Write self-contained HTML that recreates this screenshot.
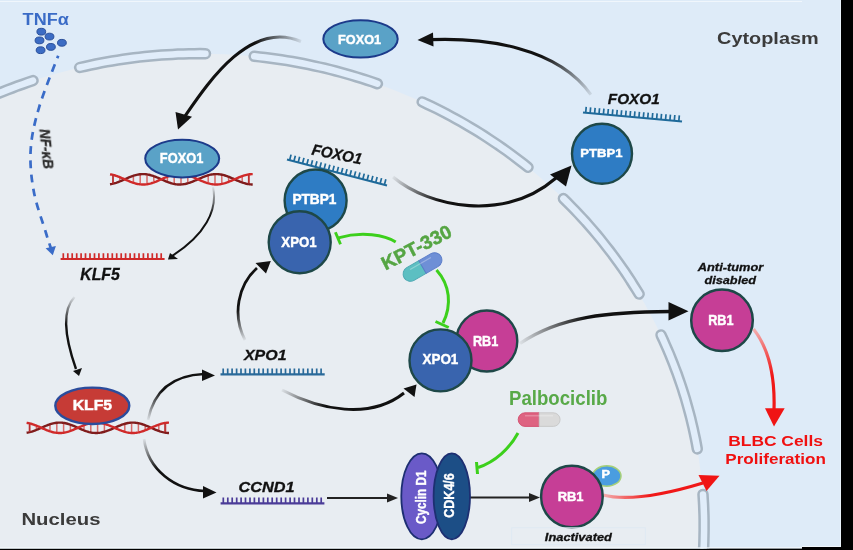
<!DOCTYPE html>
<html><head><meta charset="utf-8"><style>
html,body{margin:0;padding:0;width:853px;height:550px;overflow:hidden;background:#000}
svg{display:block;will-change:transform}
text{font-family:"Liberation Sans",sans-serif;font-weight:bold}
</style></head><body>
<svg width="853" height="550" viewBox="0 0 853 550">
<defs>
<linearGradient id="g1" gradientUnits="userSpaceOnUse" x1="592" y1="97" x2="540" y2="58"><stop offset="0" stop-color="#000" stop-opacity="0.05"/><stop offset="1" stop-color="#111" stop-opacity="1"/></linearGradient>
<linearGradient id="g2" gradientUnits="userSpaceOnUse" x1="302" y1="41" x2="255" y2="42"><stop offset="0" stop-color="#000" stop-opacity="0.05"/><stop offset="1" stop-color="#111"/></linearGradient>
<linearGradient id="g3" gradientUnits="userSpaceOnUse" x1="393" y1="177" x2="440" y2="200"><stop offset="0" stop-color="#000" stop-opacity="0.05"/><stop offset="1" stop-color="#111"/></linearGradient>
<linearGradient id="g4" gradientUnits="userSpaceOnUse" x1="213" y1="187" x2="214" y2="215"><stop offset="0" stop-color="#000" stop-opacity="0.05"/><stop offset="1" stop-color="#111"/></linearGradient>
<linearGradient id="g5" gradientUnits="userSpaceOnUse" x1="75" y1="297" x2="66" y2="325"><stop offset="0" stop-color="#000" stop-opacity="0.05"/><stop offset="1" stop-color="#111"/></linearGradient>
<linearGradient id="g6" gradientUnits="userSpaceOnUse" x1="148" y1="420" x2="160" y2="390"><stop offset="0" stop-color="#000" stop-opacity="0.05"/><stop offset="1" stop-color="#111"/></linearGradient>
<linearGradient id="g7" gradientUnits="userSpaceOnUse" x1="144" y1="439" x2="155" y2="470"><stop offset="0" stop-color="#000" stop-opacity="0.05"/><stop offset="1" stop-color="#111"/></linearGradient>
<linearGradient id="g8" gradientUnits="userSpaceOnUse" x1="245" y1="340" x2="237" y2="310"><stop offset="0" stop-color="#000" stop-opacity="0.05"/><stop offset="1" stop-color="#111"/></linearGradient>
<linearGradient id="g9" gradientUnits="userSpaceOnUse" x1="282" y1="390" x2="325" y2="408"><stop offset="0" stop-color="#000" stop-opacity="0.05"/><stop offset="1" stop-color="#111"/></linearGradient>
<linearGradient id="g10" gradientUnits="userSpaceOnUse" x1="520" y1="343" x2="585" y2="316"><stop offset="0" stop-color="#000" stop-opacity="0.05"/><stop offset="1" stop-color="#111"/></linearGradient>
<linearGradient id="r1" gradientUnits="userSpaceOnUse" x1="754" y1="329" x2="772" y2="375"><stop offset="0" stop-color="#f3b0b0"/><stop offset="1" stop-color="#f01818"/></linearGradient>
<linearGradient id="r2" gradientUnits="userSpaceOnUse" x1="603" y1="495" x2="650" y2="497"><stop offset="0" stop-color="#f3b0b0"/><stop offset="1" stop-color="#f01818"/></linearGradient>
<clipPath id="clip"><path d="M0,0 H841 V547 H802 V548.5 H0 Z"/></clipPath></defs><g clip-path="url(#clip)">
<rect x="0" y="0" width="842" height="550" fill="#deebf8"/>
<ellipse cx="200.67" cy="526.57" rx="503.46" ry="472.94" fill="#e8edf2"/>

<g fill="none" stroke-linecap="round">
<g stroke="#a7b5c2" stroke-width="11.5"><path d="M-80.1,134.0 L-75.5,131.2 L-70.9,128.3 L-66.2,125.6 L-61.5,122.8 L-56.8,120.2 L-52.1,117.5 L-47.3,115.0 L-42.4,112.4 L-37.6,109.9 L-32.7,107.5 L-27.8,105.1 L-22.9,102.8 L-17.9,100.5 L-12.9,98.3 L-7.9,96.1 L-2.9,94.0 L2.2,91.9 L7.3,89.9 L12.4,88.0 L17.5,86.0 L22.7,84.2 L27.8,82.4 L33.0,80.6"/><path d="M79.7,67.5 L85.1,66.3 L90.5,65.1 L95.9,64.0 L101.3,62.9 L106.7,61.9 L112.1,61.0 L117.6,60.1 L123.0,59.3 L128.5,58.5 L133.9,57.8 L139.4,57.1 L144.9,56.5 L150.4,56.0 L155.9,55.5 L161.4,55.1 L166.9,54.7 L172.4,54.4 L177.9,54.1 L183.4,53.9 L188.9,53.8 L194.5,53.7 L200.0,53.6 L205.5,53.7"/><path d="M254.2,56.3 L259.7,56.9 L265.1,57.5 L270.6,58.2 L276.1,59.0 L281.5,59.8 L287.0,60.6 L292.4,61.5 L297.8,62.5 L303.2,63.5 L308.6,64.6 L314.0,65.8 L319.4,67.0 L324.7,68.2 L330.1,69.5 L335.4,70.9 L340.7,72.3 L346.0,73.8 L351.3,75.3 L356.6,76.9 L361.8,78.5 L367.0,80.2 L372.2,81.9 L377.4,83.7"/><path d="M422.2,101.9 L427.1,104.2 L432.0,106.5 L436.9,108.9 L441.8,111.4 L446.6,113.9 L451.4,116.5 L456.2,119.1 L460.9,121.7 L465.6,124.4 L470.3,127.2 L475.0,130.0 L479.6,132.8 L484.1,135.7 L488.7,138.7 L493.2,141.7 L497.7,144.7 L502.1,147.8 L506.5,150.9 L510.9,154.1 L515.2,157.3 L519.5,160.6 L523.8,163.9 L528.0,167.2"/><path d="M563.4,198.6 L567.2,202.4 L571.0,206.2 L574.7,210.0 L578.4,213.9 L582.0,217.8 L585.6,221.7 L589.1,225.7 L592.6,229.7 L596.1,233.8 L599.5,237.9 L602.8,242.0 L606.1,246.2 L609.4,250.4 L612.6,254.6 L615.7,258.9 L618.8,263.1 L621.9,267.5 L624.9,271.8 L627.8,276.2 L630.7,280.6 L633.5,285.1 L636.3,289.5 L639.1,294.0"/><path d="M661.0,335.0 L663.2,339.7 L665.3,344.5 L667.4,349.3 L669.5,354.1 L671.4,358.9 L673.4,363.8 L675.2,368.7 L677.1,373.6 L678.8,378.5 L680.5,383.4 L682.2,388.4 L683.7,393.3 L685.3,398.3 L686.7,403.3 L688.1,408.3 L689.5,413.4 L690.8,418.4 L692.0,423.5 L693.2,428.5 L694.3,433.6 L695.4,438.7 L696.4,443.8 L697.3,448.9"/><path d="M703.0,494.4 L703.3,499.6 L703.6,504.8 L703.8,509.9 L704.0,515.1 L704.1,520.3 L704.1,525.5 L704.1,530.7 L704.0,535.9 L703.9,541.0 L703.7,546.2 L703.4,551.4 L703.1,556.6 L702.7,561.8 L702.3,566.9 L701.8,572.1 L701.2,577.3 L700.6,582.4 L699.9,587.6 L699.2,592.7 L698.4,597.8 L697.5,602.9 L696.6,608.1 L695.6,613.2"/></g>
<g stroke="#e1edfa" stroke-width="6.5"><path d="M-80.1,134.0 L-75.5,131.2 L-70.9,128.3 L-66.2,125.6 L-61.5,122.8 L-56.8,120.2 L-52.1,117.5 L-47.3,115.0 L-42.4,112.4 L-37.6,109.9 L-32.7,107.5 L-27.8,105.1 L-22.9,102.8 L-17.9,100.5 L-12.9,98.3 L-7.9,96.1 L-2.9,94.0 L2.2,91.9 L7.3,89.9 L12.4,88.0 L17.5,86.0 L22.7,84.2 L27.8,82.4 L33.0,80.6"/><path d="M79.7,67.5 L85.1,66.3 L90.5,65.1 L95.9,64.0 L101.3,62.9 L106.7,61.9 L112.1,61.0 L117.6,60.1 L123.0,59.3 L128.5,58.5 L133.9,57.8 L139.4,57.1 L144.9,56.5 L150.4,56.0 L155.9,55.5 L161.4,55.1 L166.9,54.7 L172.4,54.4 L177.9,54.1 L183.4,53.9 L188.9,53.8 L194.5,53.7 L200.0,53.6 L205.5,53.7"/><path d="M254.2,56.3 L259.7,56.9 L265.1,57.5 L270.6,58.2 L276.1,59.0 L281.5,59.8 L287.0,60.6 L292.4,61.5 L297.8,62.5 L303.2,63.5 L308.6,64.6 L314.0,65.8 L319.4,67.0 L324.7,68.2 L330.1,69.5 L335.4,70.9 L340.7,72.3 L346.0,73.8 L351.3,75.3 L356.6,76.9 L361.8,78.5 L367.0,80.2 L372.2,81.9 L377.4,83.7"/><path d="M422.2,101.9 L427.1,104.2 L432.0,106.5 L436.9,108.9 L441.8,111.4 L446.6,113.9 L451.4,116.5 L456.2,119.1 L460.9,121.7 L465.6,124.4 L470.3,127.2 L475.0,130.0 L479.6,132.8 L484.1,135.7 L488.7,138.7 L493.2,141.7 L497.7,144.7 L502.1,147.8 L506.5,150.9 L510.9,154.1 L515.2,157.3 L519.5,160.6 L523.8,163.9 L528.0,167.2"/><path d="M563.4,198.6 L567.2,202.4 L571.0,206.2 L574.7,210.0 L578.4,213.9 L582.0,217.8 L585.6,221.7 L589.1,225.7 L592.6,229.7 L596.1,233.8 L599.5,237.9 L602.8,242.0 L606.1,246.2 L609.4,250.4 L612.6,254.6 L615.7,258.9 L618.8,263.1 L621.9,267.5 L624.9,271.8 L627.8,276.2 L630.7,280.6 L633.5,285.1 L636.3,289.5 L639.1,294.0"/><path d="M661.0,335.0 L663.2,339.7 L665.3,344.5 L667.4,349.3 L669.5,354.1 L671.4,358.9 L673.4,363.8 L675.2,368.7 L677.1,373.6 L678.8,378.5 L680.5,383.4 L682.2,388.4 L683.7,393.3 L685.3,398.3 L686.7,403.3 L688.1,408.3 L689.5,413.4 L690.8,418.4 L692.0,423.5 L693.2,428.5 L694.3,433.6 L695.4,438.7 L696.4,443.8 L697.3,448.9"/><path d="M703.0,494.4 L703.3,499.6 L703.6,504.8 L703.8,509.9 L704.0,515.1 L704.1,520.3 L704.1,525.5 L704.1,530.7 L704.0,535.9 L703.9,541.0 L703.7,546.2 L703.4,551.4 L703.1,556.6 L702.7,561.8 L702.3,566.9 L701.8,572.1 L701.2,577.3 L700.6,582.4 L699.9,587.6 L699.2,592.7 L698.4,597.8 L697.5,602.9 L696.6,608.1 L695.6,613.2"/></g>
</g>

<!-- TNF -->
<text x="22.63" y="24.80" font-size="15.74" fill="#3a6bc6" textLength="46.13" lengthAdjust="spacingAndGlyphs" stroke="#3a6bc6" stroke-width="0">TNFα</text>
<g fill="#3c6cc4" stroke="#2a4f9a" stroke-width="1">
<ellipse cx="41.3" cy="31.7" rx="4.4" ry="3.4"/><ellipse cx="49.5" cy="36.6" rx="4.4" ry="3.4"/><ellipse cx="39.5" cy="40.4" rx="4.4" ry="3.4"/>
<ellipse cx="61.9" cy="42.8" rx="4.4" ry="3.4"/><ellipse cx="50.9" cy="46.9" rx="4.4" ry="3.4"/><ellipse cx="40.6" cy="50.2" rx="4.4" ry="3.4"/>
</g>
<path d="M58.2,55.7 C55.0,64.3 43.7,91.7 39.1,107.3 C34.5,122.9 31.6,135.4 30.7,149.4 C29.8,163.4 31.2,177.5 33.8,191.4 C36.3,205.3 43.2,223.6 46.0,233.0 C48.8,242.4 50.0,245.5 50.8,248.0" fill="none" stroke="#3a6cc8" stroke-width="2.7" stroke-dasharray="7.9,6.35" stroke-dashoffset="5"/>
<path d="M45.6,248.2 L52.8,255.2 L55.9,246 Z" fill="#3a6cc8"/>
<text transform="translate(39.5,129.5) rotate(84)" font-size="15" font-style="italic" fill="#2c2c2c" stroke="#2c2c2c" stroke-width="0.35" font-weight="normal" textLength="40" lengthAdjust="spacingAndGlyphs">NF-κB</text>

<!-- arrows black -->
<path d="M590.9,94.6 C557.2,46.7 484.7,37.6 431.0,39.6" fill="none" stroke="url(#g1)" stroke-width="3.1"/>
<path d="M417.5,40 L433,32.5 L433.5,46.5 Z" fill="#111"/>
<path d="M301.0,41.5 C250.4,20.0 209.2,80.9 185.0,116.0" fill="none" stroke="url(#g2)" stroke-width="3.1"/>
<path d="M178,129.5 L175.5,112 L192,116.8 Z" fill="#111"/>
<path d="M393,177 C430,208 505,222 556,178" fill="none" stroke="url(#g3)" stroke-width="3.1"/>
<path d="M571.5,165.5 L550,174.5 L566,186.5 Z" fill="#111"/>
<path d="M213,187 C218,210 205,235 172,256" fill="none" stroke="url(#g4)" stroke-width="2"/>
<path d="M168,259.6 L170,253 L178,259 Z" fill="#111"/>
<path d="M74.5,297 C62,310 64,335 76,369" fill="none" stroke="url(#g5)" stroke-width="2.4"/>
<path d="M79,376 L73,371 L82,368 Z" fill="#111"/>
<path d="M148,420 C155,385 180,375 204,374" fill="none" stroke="url(#g6)" stroke-width="2.6"/>
<path d="M215,375.5 L202,369.5 L202,381 Z" fill="#111"/>
<path d="M144,439 C148,470 175,490 205,491" fill="none" stroke="url(#g7)" stroke-width="2.6"/>
<path d="M216.5,492.5 L203,486 L203,498.5 Z" fill="#111"/>
<path d="M245,340 C232,315 238,285 257,268" fill="none" stroke="url(#g8)" stroke-width="2.8"/>
<path d="M270.8,261 L255.5,263 L266,273.5 Z" fill="#111"/>
<path d="M282,390 C320,410 370,420 404,393" fill="none" stroke="url(#g9)" stroke-width="3"/>
<path d="M416.5,384.5 L403.5,388.5 L414.5,397 Z" fill="#111"/>
<path d="M520,343.5 C560,316 610,312 670,311.5" fill="none" stroke="url(#g10)" stroke-width="3.3"/>
<path d="M688.5,311.2 L668.5,302 L668.5,320.5 Z" fill="#111"/>
<path d="M327,498 L389,498" fill="none" stroke="#222" stroke-width="2"/>
<path d="M398,498 L387,493.5 L387,502.5 Z" fill="#222"/>
<path d="M470,497.5 L530,497.5" fill="none" stroke="#222" stroke-width="2"/>
<path d="M540,497.5 L529,493 L529,502 Z" fill="#222"/>

<!-- red arrows -->
<path d="M753.5,329 C770,350 775,380 774,410" fill="none" stroke="url(#r1)" stroke-width="3.2"/>
<path d="M765,408.3 L784.7,408.3 L774,426.5 Z" fill="#f01414"/>
<path d="M603,495 C630,502 670,493 703,483" fill="none" stroke="url(#r2)" stroke-width="3.2"/>
<path d="M698.5,475 L719.5,475.8 L706.5,491 Z" fill="#f01414"/>

<!-- mRNAs -->
<g stroke="#d02a2a" fill="none"><path stroke-width="2.2" d="M60.6,259.0 L164.6,259.0"/><path stroke-width="1.7" d="M63.3,259.0 l0.00,-5.80 M67.8,259.0 l0.00,-5.80 M72.2,259.0 l0.00,-5.80 M76.7,259.0 l0.00,-5.80 M81.1,259.0 l0.00,-5.80 M85.5,259.0 l0.00,-5.80 M90.0,259.0 l0.00,-5.80 M94.5,259.0 l0.00,-5.80 M98.9,259.0 l0.00,-5.80 M103.4,259.0 l0.00,-5.80 M107.8,259.0 l0.00,-5.80 M112.3,259.0 l0.00,-5.80 M116.7,259.0 l0.00,-5.80 M121.2,259.0 l0.00,-5.80 M125.6,259.0 l0.00,-5.80 M130.1,259.0 l0.00,-5.80 M134.5,259.0 l0.00,-5.80 M139.0,259.0 l0.00,-5.80 M143.4,259.0 l0.00,-5.80 M147.9,259.0 l0.00,-5.80 M152.3,259.0 l0.00,-5.80 M156.8,259.0 l0.00,-5.80 M161.2,259.0 l0.00,-5.80 "/></g>
<g stroke="#2a6a9a" fill="none"><path stroke-width="2.2" d="M220.5,374.3 L324.7,374.3"/><path stroke-width="1.7" d="M223.2,374.3 l0.00,-5.80 M227.7,374.3 l0.00,-5.80 M232.1,374.3 l0.00,-5.80 M236.6,374.3 l0.00,-5.80 M241.0,374.3 l0.00,-5.80 M245.4,374.3 l0.00,-5.80 M249.9,374.3 l0.00,-5.80 M254.3,374.3 l0.00,-5.80 M258.8,374.3 l0.00,-5.80 M263.2,374.3 l0.00,-5.80 M267.7,374.3 l0.00,-5.80 M272.2,374.3 l0.00,-5.80 M276.6,374.3 l0.00,-5.80 M281.1,374.3 l0.00,-5.80 M285.5,374.3 l0.00,-5.80 M290.0,374.3 l0.00,-5.80 M294.4,374.3 l0.00,-5.80 M298.9,374.3 l0.00,-5.80 M303.3,374.3 l0.00,-5.80 M307.8,374.3 l0.00,-5.80 M312.2,374.3 l0.00,-5.80 M316.7,374.3 l0.00,-5.80 M321.1,374.3 l0.00,-5.80 "/></g>
<g stroke="#4b3c98" fill="none"><path stroke-width="2.2" d="M220.6,503.3 L324.4,503.3"/><path stroke-width="1.7" d="M223.3,503.3 l0.00,-5.80 M227.8,503.3 l0.00,-5.80 M232.2,503.3 l0.00,-5.80 M236.7,503.3 l0.00,-5.80 M241.1,503.3 l0.00,-5.80 M245.5,503.3 l0.00,-5.80 M250.0,503.3 l0.00,-5.80 M254.4,503.3 l0.00,-5.80 M258.9,503.3 l0.00,-5.80 M263.4,503.3 l0.00,-5.80 M267.8,503.3 l0.00,-5.80 M272.2,503.3 l0.00,-5.80 M276.7,503.3 l0.00,-5.80 M281.2,503.3 l0.00,-5.80 M285.6,503.3 l0.00,-5.80 M290.1,503.3 l0.00,-5.80 M294.5,503.3 l0.00,-5.80 M299.0,503.3 l0.00,-5.80 M303.4,503.3 l0.00,-5.80 M307.9,503.3 l0.00,-5.80 M312.3,503.3 l0.00,-5.80 M316.8,503.3 l0.00,-5.80 M321.2,503.3 l0.00,-5.80 "/></g>
<g stroke="#1f6a9a" fill="none"><path stroke-width="2.2" d="M287.0,159.5 L387.0,185.5"/><path stroke-width="1.7" d="M289.6,160.2 l1.46,-5.61 M293.9,161.3 l1.46,-5.61 M298.2,162.4 l1.46,-5.61 M302.5,163.5 l1.46,-5.61 M306.8,164.7 l1.46,-5.61 M311.1,165.8 l1.46,-5.61 M315.5,166.9 l1.46,-5.61 M319.8,168.0 l1.46,-5.61 M324.1,169.1 l1.46,-5.61 M328.4,170.3 l1.46,-5.61 M332.7,171.4 l1.46,-5.61 M337.0,172.5 l1.46,-5.61 M341.3,173.6 l1.46,-5.61 M345.6,174.7 l1.46,-5.61 M349.9,175.9 l1.46,-5.61 M354.2,177.0 l1.46,-5.61 M358.5,178.1 l1.46,-5.61 M362.8,179.2 l1.46,-5.61 M367.1,180.3 l1.46,-5.61 M371.4,181.5 l1.46,-5.61 M375.7,182.6 l1.46,-5.61 M380.1,183.7 l1.46,-5.61 M384.4,184.8 l1.46,-5.61 "/></g>
<g stroke="#1f6a9a" fill="none"><path stroke-width="2.2" d="M583.0,112.5 L682.0,121.5"/><path stroke-width="1.7" d="M585.7,112.7 l0.53,-5.78 M590.1,113.1 l0.53,-5.78 M594.6,113.6 l0.53,-5.78 M599.0,114.0 l0.53,-5.78 M603.4,114.4 l0.53,-5.78 M607.8,114.8 l0.53,-5.78 M612.3,115.2 l0.53,-5.78 M616.7,115.6 l0.53,-5.78 M621.1,116.0 l0.53,-5.78 M625.6,116.4 l0.53,-5.78 M630.0,116.8 l0.53,-5.78 M634.4,117.2 l0.53,-5.78 M638.9,117.6 l0.53,-5.78 M643.3,118.0 l0.53,-5.78 M647.7,118.4 l0.53,-5.78 M652.2,118.8 l0.53,-5.78 M656.6,119.2 l0.53,-5.78 M661.0,119.6 l0.53,-5.78 M665.5,120.0 l0.53,-5.78 M669.9,120.4 l0.53,-5.78 M674.3,120.8 l0.53,-5.78 M678.8,121.2 l0.53,-5.78 "/></g>
<text x="80.33" y="280.29" font-size="15.76" font-style="italic" fill="#111" textLength="39.46" lengthAdjust="spacingAndGlyphs" stroke="#111" stroke-width="0.3">KLF5</text>
<text x="243.97" y="360.29" font-size="15.48" font-style="italic" fill="#111" textLength="42.56" lengthAdjust="spacingAndGlyphs" stroke="#111" stroke-width="0.3">XPO1</text>
<text x="238.60" y="492.39" font-size="13.81" font-style="italic" fill="#111" textLength="56.09" lengthAdjust="spacingAndGlyphs" stroke="#111" stroke-width="0.3">CCND1</text>
<text transform="translate(311,154.5) rotate(11)" font-size="15.5" font-style="italic" fill="#111" stroke="#111" stroke-width="0.3" textLength="51" lengthAdjust="spacingAndGlyphs">FOXO1</text>
<text x="607.86" y="104.29" font-size="15.06" font-style="italic" fill="#111" textLength="51.85" lengthAdjust="spacingAndGlyphs" stroke="#111" stroke-width="0.3">FOXO1</text>

<!-- DNA -->
<g fill="none"><path d="M113.0,175.7 L113.0,182.9 M119.8,178.0 L119.8,180.6 M133.4,176.6 L133.4,182.0 M140.2,175.1 L140.2,183.5 M147.0,175.2 L147.0,183.4 M153.8,177.0 L153.8,181.6 M167.4,177.5 L167.4,181.1 M174.2,175.5 L174.2,183.1 M181.0,174.9 L181.0,183.7 M187.8,176.1 L187.8,182.5 M208.2,176.1 L208.2,182.5 M215.0,174.9 L215.0,183.7 M221.8,175.5 L221.8,183.1 M228.6,177.6 L228.6,181.0 M242.2,176.9 L242.2,181.7 M249.0,175.2 L249.0,183.4 " stroke="#d86a6a" stroke-width="1.5"/><path d="M110.00,184.26 L111.03,184.10 L112.05,183.91 L113.08,183.67 L114.11,183.41 L115.13,183.11 L116.16,182.79 L117.19,182.44 L118.21,182.06 L119.24,181.66 L120.27,181.24 L121.29,180.81 L122.32,180.37 L123.35,179.91 L124.37,179.46 L125.40,179.00 L126.43,178.54 L127.45,178.09 L128.48,177.65 L129.51,177.23 L130.53,176.81 L131.56,176.42 L132.59,176.05 L133.61,175.71 L134.64,175.39 L135.67,175.10 L136.69,174.85 L137.72,174.63 L138.75,174.45 L139.77,174.30 L140.80,174.19 L141.83,174.13 L142.85,174.10 L143.88,174.11 L144.91,174.17 L145.93,174.26 L146.96,174.39 L147.98,174.56 L149.01,174.77 L150.04,175.01 L151.06,175.29 L152.09,175.60 L153.12,175.93 L154.14,176.29 L155.17,176.68 L156.20,177.08 L157.22,177.51 L158.25,177.94 L159.28,178.39 L160.30,178.84 L161.33,179.30 L162.36,179.76 L163.38,180.21 L164.41,180.66 L165.44,181.10 L166.46,181.52 L167.49,181.93 L168.52,182.31 L169.54,182.67 L170.57,183.01 L171.60,183.31 L172.62,183.59 L173.65,183.83 L174.68,184.04 L175.70,184.21 L176.73,184.34 L177.76,184.43 L178.78,184.49 L179.81,184.50 L180.84,184.47 L181.86,184.40 L182.89,184.30 L183.92,184.15 L184.94,183.97 L185.97,183.75 L187.00,183.49 L188.02,183.21 L189.05,182.89 L190.08,182.54 L191.10,182.17 L192.13,181.78 L193.16,181.37 L194.18,180.94 L195.21,180.50 L196.24,180.05 L197.26,179.60 L198.29,179.14 L199.32,178.68 L200.34,178.23 L201.37,177.79 L202.40,177.35 L203.42,176.94 L204.45,176.54 L205.48,176.16 L206.50,175.81 L207.53,175.48 L208.56,175.19 L209.58,174.92 L210.61,174.69 L211.64,174.50 L212.66,174.34 L213.69,174.22 L214.72,174.14 L215.74,174.10 L216.77,174.11 L217.79,174.15 L218.82,174.23 L219.85,174.35 L220.87,174.51 L221.90,174.70 L222.93,174.94 L223.95,175.20 L224.98,175.50 L226.01,175.83 L227.03,176.18 L228.06,176.56 L229.09,176.96 L230.11,177.38 L231.14,177.81 L232.17,178.25 L233.19,178.71 L234.22,179.16 L235.25,179.62 L236.27,180.08 L237.30,180.53 L238.33,180.97 L239.35,181.39 L240.38,181.80 L241.41,182.20 L242.43,182.56 L243.46,182.91 L244.49,183.22 L245.51,183.51 L246.54,183.76 L247.57,183.98 L248.59,184.16 L249.62,184.30 L250.65,184.41 L251.67,184.47 L252.70,184.50" stroke="#801c1c" stroke-width="2.4"/><path d="M110.00,174.34 L111.03,174.50 L112.05,174.69 L113.08,174.93 L114.11,175.19 L115.13,175.49 L116.16,175.81 L117.19,176.16 L118.21,176.54 L119.24,176.94 L120.27,177.36 L121.29,177.79 L122.32,178.23 L123.35,178.69 L124.37,179.14 L125.40,179.60 L126.43,180.06 L127.45,180.51 L128.48,180.95 L129.51,181.37 L130.53,181.79 L131.56,182.18 L132.59,182.55 L133.61,182.89 L134.64,183.21 L135.67,183.50 L136.69,183.75 L137.72,183.97 L138.75,184.15 L139.77,184.30 L140.80,184.41 L141.83,184.47 L142.85,184.50 L143.88,184.49 L144.91,184.43 L145.93,184.34 L146.96,184.21 L147.98,184.04 L149.01,183.83 L150.04,183.59 L151.06,183.31 L152.09,183.00 L153.12,182.67 L154.14,182.31 L155.17,181.92 L156.20,181.52 L157.22,181.09 L158.25,180.66 L159.28,180.21 L160.30,179.76 L161.33,179.30 L162.36,178.84 L163.38,178.39 L164.41,177.94 L165.44,177.50 L166.46,177.08 L167.49,176.67 L168.52,176.29 L169.54,175.93 L170.57,175.59 L171.60,175.29 L172.62,175.01 L173.65,174.77 L174.68,174.56 L175.70,174.39 L176.73,174.26 L177.76,174.17 L178.78,174.11 L179.81,174.10 L180.84,174.13 L181.86,174.20 L182.89,174.30 L183.92,174.45 L184.94,174.63 L185.97,174.85 L187.00,175.11 L188.02,175.39 L189.05,175.71 L190.08,176.06 L191.10,176.43 L192.13,176.82 L193.16,177.23 L194.18,177.66 L195.21,178.10 L196.24,178.55 L197.26,179.00 L198.29,179.46 L199.32,179.92 L200.34,180.37 L201.37,180.81 L202.40,181.25 L203.42,181.66 L204.45,182.06 L205.48,182.44 L206.50,182.79 L207.53,183.12 L208.56,183.41 L209.58,183.68 L210.61,183.91 L211.64,184.10 L212.66,184.26 L213.69,184.38 L214.72,184.46 L215.74,184.50 L216.77,184.49 L217.79,184.45 L218.82,184.37 L219.85,184.25 L220.87,184.09 L221.90,183.90 L222.93,183.66 L223.95,183.40 L224.98,183.10 L226.01,182.77 L227.03,182.42 L228.06,182.04 L229.09,181.64 L230.11,181.22 L231.14,180.79 L232.17,180.35 L233.19,179.89 L234.22,179.44 L235.25,178.98 L236.27,178.52 L237.30,178.07 L238.33,177.63 L239.35,177.21 L240.38,176.80 L241.41,176.40 L242.43,176.04 L243.46,175.69 L244.49,175.38 L245.51,175.09 L246.54,174.84 L247.57,174.62 L248.59,174.44 L249.62,174.30 L250.65,174.19 L251.67,174.13 L252.70,174.10" stroke="#d02a2a" stroke-width="2.4"/><path d="M113.0,175.1 L113.0,183.5 M248.7,175.1 L248.7,183.5" stroke="#b83030" stroke-width="1.6"/></g>
<g fill="none"><path d="M29.6,424.2 L29.6,431.4 M36.4,426.5 L36.4,429.1 M50.0,425.1 L50.0,430.5 M56.8,423.6 L56.8,432.0 M63.6,423.7 L63.6,431.9 M70.4,425.5 L70.4,430.1 M84.0,426.0 L84.0,429.6 M90.8,424.0 L90.8,431.6 M97.6,423.4 L97.6,432.2 M104.4,424.6 L104.4,431.0 M124.8,424.6 L124.8,431.0 M131.6,423.4 L131.6,432.2 M138.4,424.0 L138.4,431.6 M145.2,426.1 L145.2,429.5 M158.8,425.4 L158.8,430.2 M165.6,423.7 L165.6,431.9 " stroke="#d86a6a" stroke-width="1.5"/><path d="M26.60,432.76 L27.62,432.60 L28.65,432.41 L29.67,432.18 L30.70,431.91 L31.72,431.62 L32.75,431.29 L33.77,430.94 L34.80,430.56 L35.82,430.17 L36.84,429.75 L37.87,429.32 L38.89,428.88 L39.92,428.43 L40.94,427.97 L41.97,427.51 L42.99,427.06 L44.02,426.61 L45.04,426.17 L46.06,425.74 L47.09,425.33 L48.11,424.94 L49.14,424.57 L50.16,424.22 L51.19,423.91 L52.21,423.62 L53.24,423.36 L54.26,423.14 L55.28,422.96 L56.31,422.81 L57.33,422.70 L58.36,422.63 L59.38,422.60 L60.41,422.61 L61.43,422.66 L62.46,422.75 L63.48,422.88 L64.51,423.05 L65.53,423.25 L66.55,423.49 L67.58,423.77 L68.60,424.07 L69.63,424.40 L70.65,424.76 L71.68,425.14 L72.70,425.55 L73.73,425.97 L74.75,426.40 L75.77,426.85 L76.80,427.30 L77.82,427.75 L78.85,428.21 L79.87,428.66 L80.90,429.11 L81.92,429.55 L82.95,429.97 L83.97,430.38 L84.99,430.76 L86.02,431.13 L87.04,431.47 L88.07,431.78 L89.09,432.06 L90.12,432.30 L91.14,432.51 L92.17,432.69 L93.19,432.82 L94.21,432.92 L95.24,432.98 L96.26,433.00 L97.29,432.98 L98.31,432.92 L99.34,432.82 L100.36,432.68 L101.39,432.50 L102.41,432.28 L103.43,432.04 L104.46,431.75 L105.48,431.44 L106.51,431.10 L107.53,430.74 L108.56,430.35 L109.58,429.94 L110.61,429.52 L111.63,429.08 L112.65,428.63 L113.68,428.18 L114.70,427.72 L115.73,427.26 L116.75,426.81 L117.78,426.37 L118.80,425.93 L119.83,425.52 L120.85,425.11 L121.87,424.73 L122.90,424.38 L123.92,424.05 L124.95,423.74 L125.97,423.47 L127.00,423.24 L128.02,423.04 L129.05,422.87 L130.07,422.74 L131.09,422.66 L132.12,422.61 L133.14,422.60 L134.17,422.63 L135.19,422.71 L136.22,422.82 L137.24,422.97 L138.27,423.16 L139.29,423.38 L140.32,423.64 L141.34,423.93 L142.36,424.25 L143.39,424.59 L144.41,424.97 L145.44,425.36 L146.46,425.77 L147.49,426.20 L148.51,426.64 L149.54,427.09 L150.56,427.55 L151.58,428.00 L152.61,428.46 L153.63,428.91 L154.66,429.35 L155.68,429.78 L156.71,430.20 L157.73,430.59 L158.76,430.97 L159.78,431.32 L160.80,431.64 L161.83,431.93 L162.85,432.19 L163.88,432.42 L164.90,432.61 L165.93,432.77 L166.95,432.88 L167.98,432.96 L169.00,433.00" stroke="#801c1c" stroke-width="2.4"/><path d="M26.60,422.84 L27.62,423.00 L28.65,423.19 L29.67,423.42 L30.70,423.69 L31.72,423.98 L32.75,424.31 L33.77,424.66 L34.80,425.04 L35.82,425.43 L36.84,425.85 L37.87,426.28 L38.89,426.72 L39.92,427.17 L40.94,427.63 L41.97,428.09 L42.99,428.54 L44.02,428.99 L45.04,429.43 L46.06,429.86 L47.09,430.27 L48.11,430.66 L49.14,431.03 L50.16,431.38 L51.19,431.69 L52.21,431.98 L53.24,432.24 L54.26,432.46 L55.28,432.64 L56.31,432.79 L57.33,432.90 L58.36,432.97 L59.38,433.00 L60.41,432.99 L61.43,432.94 L62.46,432.85 L63.48,432.72 L64.51,432.55 L65.53,432.35 L66.55,432.11 L67.58,431.83 L68.60,431.53 L69.63,431.20 L70.65,430.84 L71.68,430.46 L72.70,430.05 L73.73,429.63 L74.75,429.20 L75.77,428.75 L76.80,428.30 L77.82,427.85 L78.85,427.39 L79.87,426.94 L80.90,426.49 L81.92,426.05 L82.95,425.63 L83.97,425.22 L84.99,424.84 L86.02,424.47 L87.04,424.13 L88.07,423.82 L89.09,423.54 L90.12,423.30 L91.14,423.09 L92.17,422.91 L93.19,422.78 L94.21,422.68 L95.24,422.62 L96.26,422.60 L97.29,422.62 L98.31,422.68 L99.34,422.78 L100.36,422.92 L101.39,423.10 L102.41,423.32 L103.43,423.56 L104.46,423.85 L105.48,424.16 L106.51,424.50 L107.53,424.86 L108.56,425.25 L109.58,425.66 L110.61,426.08 L111.63,426.52 L112.65,426.97 L113.68,427.42 L114.70,427.88 L115.73,428.34 L116.75,428.79 L117.78,429.23 L118.80,429.67 L119.83,430.08 L120.85,430.49 L121.87,430.87 L122.90,431.22 L123.92,431.55 L124.95,431.86 L125.97,432.13 L127.00,432.36 L128.02,432.56 L129.05,432.73 L130.07,432.86 L131.09,432.94 L132.12,432.99 L133.14,433.00 L134.17,432.97 L135.19,432.89 L136.22,432.78 L137.24,432.63 L138.27,432.44 L139.29,432.22 L140.32,431.96 L141.34,431.67 L142.36,431.35 L143.39,431.01 L144.41,430.63 L145.44,430.24 L146.46,429.83 L147.49,429.40 L148.51,428.96 L149.54,428.51 L150.56,428.05 L151.58,427.60 L152.61,427.14 L153.63,426.69 L154.66,426.25 L155.68,425.82 L156.71,425.40 L157.73,425.01 L158.76,424.63 L159.78,424.28 L160.80,423.96 L161.83,423.67 L162.85,423.41 L163.88,423.18 L164.90,422.99 L165.93,422.83 L166.95,422.72 L167.98,422.64 L169.00,422.60" stroke="#d02a2a" stroke-width="2.4"/><path d="M29.6,423.6 L29.6,432.0 M165.0,423.6 L165.0,432.0" stroke="#b83030" stroke-width="1.6"/></g>

<!-- proteins -->
<ellipse cx="360.5" cy="38.9" rx="37.2" ry="18.7" fill="#5aa2c7" stroke="#1c3a8a" stroke-width="2"/>
<text x="338.12" y="43.89" font-size="13.04" fill="#fff" textLength="42.97" lengthAdjust="spacingAndGlyphs" stroke="#fff" stroke-width="0.45">FOXO1</text>
<ellipse cx="182.2" cy="158.6" rx="37" ry="18.8" fill="#5aa2c7" stroke="#1c3a8a" stroke-width="2"/>
<text x="159.87" y="163.49" font-size="15.45" fill="#fff" textLength="43.46" lengthAdjust="spacingAndGlyphs" stroke="#fff" stroke-width="0.45">FOXO1</text>
<ellipse cx="92.3" cy="405.8" rx="37" ry="18.2" fill="#c63b36" stroke="#2b4c9c" stroke-width="2.4"/>
<text x="72.72" y="410.29" font-size="15.48" fill="#fff" textLength="39.39" lengthAdjust="spacingAndGlyphs" stroke="#fff" stroke-width="0.45">KLF5</text>

<circle cx="315.6" cy="200.5" r="31" fill="#2e7cc4" stroke="#1e4848" stroke-width="2.4"/>
<text x="292.38" y="203.69" font-size="14.10" fill="#fff" textLength="44.05" lengthAdjust="spacingAndGlyphs" stroke="#fff" stroke-width="0.45">PTBP1</text>
<circle cx="299.7" cy="242.3" r="31" fill="#3964ae" stroke="#1e4848" stroke-width="2.4"/>
<text x="281.37" y="246.79" font-size="15.48" fill="#fff" textLength="35.22" lengthAdjust="spacingAndGlyphs" stroke="#fff" stroke-width="0.45">XPO1</text>

<circle cx="486.8" cy="341" r="30.5" fill="#c63e96" stroke="#1e4848" stroke-width="2.4"/>
<text x="472.96" y="345.59" font-size="14.21" fill="#fff" textLength="25.34" lengthAdjust="spacingAndGlyphs" stroke="#fff" stroke-width="0.45">RB1</text>
<circle cx="440.5" cy="360.4" r="31" fill="#3964ae" stroke="#1e4848" stroke-width="2.4"/>
<text x="422.48" y="364.49" font-size="15.10" fill="#fff" textLength="35.85" lengthAdjust="spacingAndGlyphs" stroke="#fff" stroke-width="0.45">XPO1</text>

<circle cx="602" cy="153.8" r="30" fill="#2e7cc4" stroke="#1e4848" stroke-width="2.4"/>
<text x="580.39" y="157.49" font-size="11.69" fill="#fff" textLength="42.08" lengthAdjust="spacingAndGlyphs" stroke="#fff" stroke-width="0.45">PTBP1</text>

<circle cx="722" cy="320.3" r="30.8" fill="#c63e96" stroke="#1e4848" stroke-width="2.5"/>
<text x="708.22" y="325.39" font-size="13.98" fill="#fff" textLength="25.29" lengthAdjust="spacingAndGlyphs" stroke="#fff" stroke-width="0.45">RB1</text>
<text x="697.80" y="271.29" font-size="11.21" font-style="italic" fill="#111" textLength="65.43" lengthAdjust="spacingAndGlyphs" stroke="#111" stroke-width="0.3">Anti-tumor</text>
<text x="704.42" y="284.22" font-size="11.82" font-style="italic" fill="#111" textLength="51.60" lengthAdjust="spacingAndGlyphs" stroke="#111" stroke-width="0.3">disabled</text>

<ellipse cx="606.8" cy="476" rx="14.2" ry="10.2" fill="#4a9de0" stroke="#a6d07a" stroke-width="1.5"/>
<text x="601.44" y="478.18" font-size="10.33" fill="#fff" textLength="8.49" lengthAdjust="spacingAndGlyphs" stroke="#fff" stroke-width="0.45">P</text>
<circle cx="571.9" cy="496.5" r="30.8" fill="#c63e96" stroke="#1e4848" stroke-width="2.5"/>
<text x="557.67" y="500.59" font-size="13.35" fill="#fff" textLength="25.91" lengthAdjust="spacingAndGlyphs" stroke="#fff" stroke-width="0.45">RB1</text>
<rect x="511.6" y="527.8" width="133.8" height="16.8" fill="none" stroke="#dfe9f3" stroke-width="1"/>
<text x="544.84" y="540.79" font-size="10.37" font-style="italic" fill="#111" textLength="67.10" lengthAdjust="spacingAndGlyphs" stroke="#111" stroke-width="0.3">Inactivated</text>

<ellipse cx="421.8" cy="496.3" rx="20.5" ry="43" fill="#6a5ac8" stroke="#1d2f72" stroke-width="1.8"/>
<ellipse cx="451.8" cy="496.3" rx="18.2" ry="43" fill="#1c4e86" stroke="#1d2f72" stroke-width="1.8"/>
<text transform="translate(425.6,524) rotate(-90)" font-size="14" fill="#fff" stroke="#fff" stroke-width="0.4" textLength="53.5" lengthAdjust="spacingAndGlyphs">Cyclin D1</text>
<text transform="translate(454.2,517.7) rotate(-90)" font-size="14.5" fill="#fff" stroke="#fff" stroke-width="0.4" textLength="44.5" lengthAdjust="spacingAndGlyphs">CDK4/6</text>

<!-- drugs -->
<path d="M395.7,242 C385,235 362,231 338.3,237.8" fill="none" stroke="#3cd01c" stroke-width="2.9"/>
<path d="M335.4,232.3 L340.5,244.3" stroke="#3cd01c" stroke-width="2.9"/>
<path d="M436.5,270 C450,285 452,305 443,323" fill="none" stroke="#3cd01c" stroke-width="3"/>
<path d="M435.5,321.5 L448.7,327.5" stroke="#3cd01c" stroke-width="3"/>
<path d="M518,433 C510,448 495,462 478,467.5" fill="none" stroke="#3cd01c" stroke-width="3"/>
<path d="M476.5,462 L477.5,474" stroke="#3cd01c" stroke-width="3"/>
<text transform="translate(385.5,270.5) rotate(-27)" font-size="19" fill="#55a543" stroke="#55a543" stroke-width="0.5" textLength="76" lengthAdjust="spacingAndGlyphs">KPT-330</text>
<g transform="translate(422.5,267) rotate(-30)">
<path d="M0,-7.3 L-14,-7.3 A7.3,7.3 0 0 0 -14,7.3 L0,7.3 Z" fill="#5cbfc2" stroke="#4aa6b0" stroke-width="0.9"/>
<path d="M0,-7.3 L14,-7.3 A7.3,7.3 0 0 1 14,7.3 L0,7.3 Z" fill="#6e8fd6" stroke="#5a7cc8" stroke-width="0.9"/>
<path d="M-12,-4 L12,-4" stroke="#ffffff" stroke-opacity="0.3" stroke-width="1.3"/>
</g>
<text x="509.02" y="405.40" font-size="19.56" fill="#58a948" textLength="98.39" lengthAdjust="spacingAndGlyphs" stroke="#58a948" stroke-width="0">Palbociclib</text>
<path d="M539.2,412.8 L525,412.8 A6.8,6.8 0 0 0 525,426.4 L539.2,426.4 Z" fill="#de6381" stroke="#d24d6d" stroke-width="0.9"/>
<path d="M539.2,412.8 L553.3,412.8 A6.8,6.8 0 0 1 553.3,426.4 L539.2,426.4 Z" fill="#dadada" stroke="#c6c6c6" stroke-width="0.9"/>
<path d="M525,415.8 L553,415.8" stroke="#fff" stroke-opacity="0.3" stroke-width="1.2"/>

<!-- labels -->
<text x="717.10" y="44.20" font-size="15.68" fill="#3b3b3b" textLength="101.55" lengthAdjust="spacingAndGlyphs" stroke="#3b3b3b" stroke-width="0">Cytoplasm</text>
<text x="21.44" y="524.60" font-size="15.69" fill="#3b3b3b" textLength="79.01" lengthAdjust="spacingAndGlyphs" stroke="#3b3b3b" stroke-width="0">Nucleus</text>
<text x="728.22" y="445.80" font-size="13.87" fill="#f01010" textLength="94.70" lengthAdjust="spacingAndGlyphs" stroke="#f01010" stroke-width="0">BLBC Cells</text>
<text x="725.30" y="463.60" font-size="14.13" fill="#f01010" textLength="100.55" lengthAdjust="spacingAndGlyphs" stroke="#f01010" stroke-width="0">Proliferation</text>
<rect x="0" y="1" width="802" height="1" fill="#f0f6fc"/>
<rect x="0" y="547.3" width="802" height="1.2" fill="#f4f8fb"/>
<rect x="802" y="546" width="39" height="1" fill="#f0f6fc"/>
<rect x="840" y="0" width="1" height="547" fill="#eaf3fb"/>
</g>
</svg>
</body></html>
